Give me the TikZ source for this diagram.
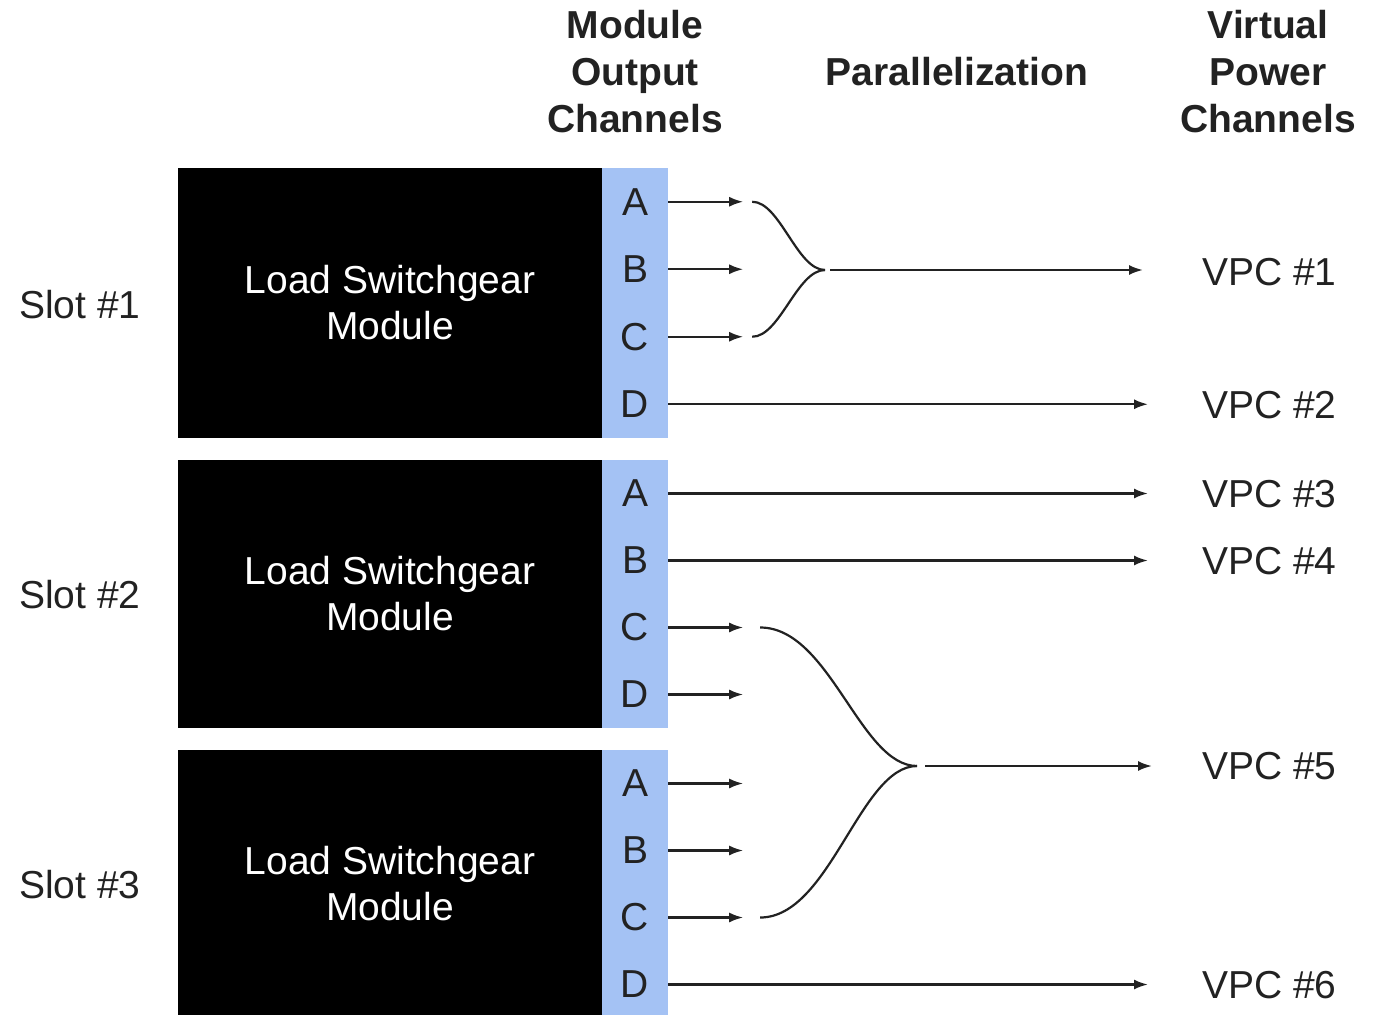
\documentclass[tikz,border=0pt]{standalone}
\usepackage{fontspec}
\setmainfont{Liberation Sans}
\usetikzlibrary{arrows.meta}
\definecolor{chblue}{HTML}{A4C2F4}
\definecolor{ink}{HTML}{222222}
\begin{document}
\begin{tikzpicture}[x=1pt,y=-1pt,
  txt/.style={font=\fontsize{39}{46}\selectfont, text=ink, inner sep=0pt, align=center},
  hdr/.style={font=\fontsize{39}{47}\selectfont\bfseries, text=ink, inner sep=0pt, align=center},
  module/.style={fill=black, draw=none, minimum width=424pt, inner sep=0pt, text=white,
    font=\fontsize{39}{46}\selectfont, align=center},
  cell/.style={fill=chblue, draw=none, minimum width=66pt, inner sep=0pt, text=ink,
    font=\fontsize{39}{46}\selectfont},
  arr/.style={line width=2.2pt, draw=ink, -{Latex[length=14pt,width=10pt]}},
  ln/.style={line width=2.2pt, draw=ink},
]
\useasboundingbox (0,0) rectangle (1383,1014);

% headers
\node[hdr] (hmoc) at (635,72) {Module\\Output\\Channels};
\node[hdr] (hpar) at (957,72) {Parallelization};
\node[hdr] (hvpc) at (1268,72) {Virtual\\Power\\Channels};

% slot labels
\node[txt] (slot1) at (80,305) {Slot \#1};
\node[txt] (slot2) at (80,595) {Slot \#2};
\node[txt] (slot3) at (80,885) {Slot \#3};

% modules
\node[module, minimum height=270pt] (m1) at (390,303) {Load Switchgear\\Module};
\node[module, minimum height=268pt] (m2) at (390,594) {Load Switchgear\\Module};
\node[module, minimum height=268pt] (m3) at (390,884) {Load Switchgear\\Module};

% channel cells
\foreach \s/\t/\h in {1/168/67.5, 2/460/67, 3/750/67} {
  \foreach \L [count=\k from 0] in {A,B,C,D} {
    \node[cell, minimum height=\h pt] (s\s\L) at (635, \t+\h/2+\k*\h) {\L};
  }
}

% VPC labels
\node[txt, anchor=west] (v1) at (1202,272) {VPC \#1};
\node[txt, anchor=west] (v2) at (1202,405) {VPC \#2};
\node[txt, anchor=west] (v3) at (1202,494) {VPC \#3};
\node[txt, anchor=west] (v4) at (1202,561) {VPC \#4};
\node[txt, anchor=west] (v5) at (1202,766) {VPC \#5};
\node[txt, anchor=west] (v6) at (1202,985) {VPC \#6};

% short arrows
\foreach \n in {s1A,s1B,s1C,s2C,s2D,s3A,s3B,s3C} {
  \coordinate (t\n) at ([xshift=75pt]\n.east);
  \draw[arr] (\n.east) -- (t\n);
}

% long direct arrows
\draw[arr, shorten >=54pt] (s1D.east) -- (s1D.east -| v2.west);
\draw[arr, shorten >=54pt] (s2A.east) -- (s2A.east -| v3.west);
\draw[arr, shorten >=54pt] (s2B.east) -- (s2B.east -| v4.west);
\draw[arr, shorten >=54pt] (s3D.east) -- (s3D.east -| v6.west);

% parallelization brace 1 (slot 1: A,B,C -> VPC #1)
\coordinate (b1a) at ([xshift=9pt]ts1A);
\coordinate (b1c) at ([xshift=9pt]ts1C);
\coordinate (tip1) at (825,270);
\draw[ln] (b1a) .. controls (780,201.75) and (797,270) .. (tip1);
\draw[ln] (b1c) .. controls (780,336.75) and (797,270) .. (tip1);
\coordinate (o1) at ([xshift=5pt]tip1);
\coordinate (e1) at ([xshift=-59pt]v1.west);
\draw[arr] (o1) -- (o1 -| e1);

% parallelization brace 2 (slot 2 C,D + slot 3 A,B,C -> VPC #5)
\coordinate (b2a) at ([xshift=17pt]ts2C);
\coordinate (b2c) at ([xshift=17pt]ts3C);
\coordinate (tip2) at (917,766);
\draw[ln] (b2a) .. controls (830,627.5) and (860,766) .. (tip2);
\draw[ln] (b2c) .. controls (830,917.5) and (860,766) .. (tip2);
\coordinate (o2) at ([xshift=8pt]tip2);
\coordinate (e2) at ([xshift=-50pt]v5.west);
\draw[arr] (o2) -- (o2 -| e2);
\end{tikzpicture}
\end{document}
